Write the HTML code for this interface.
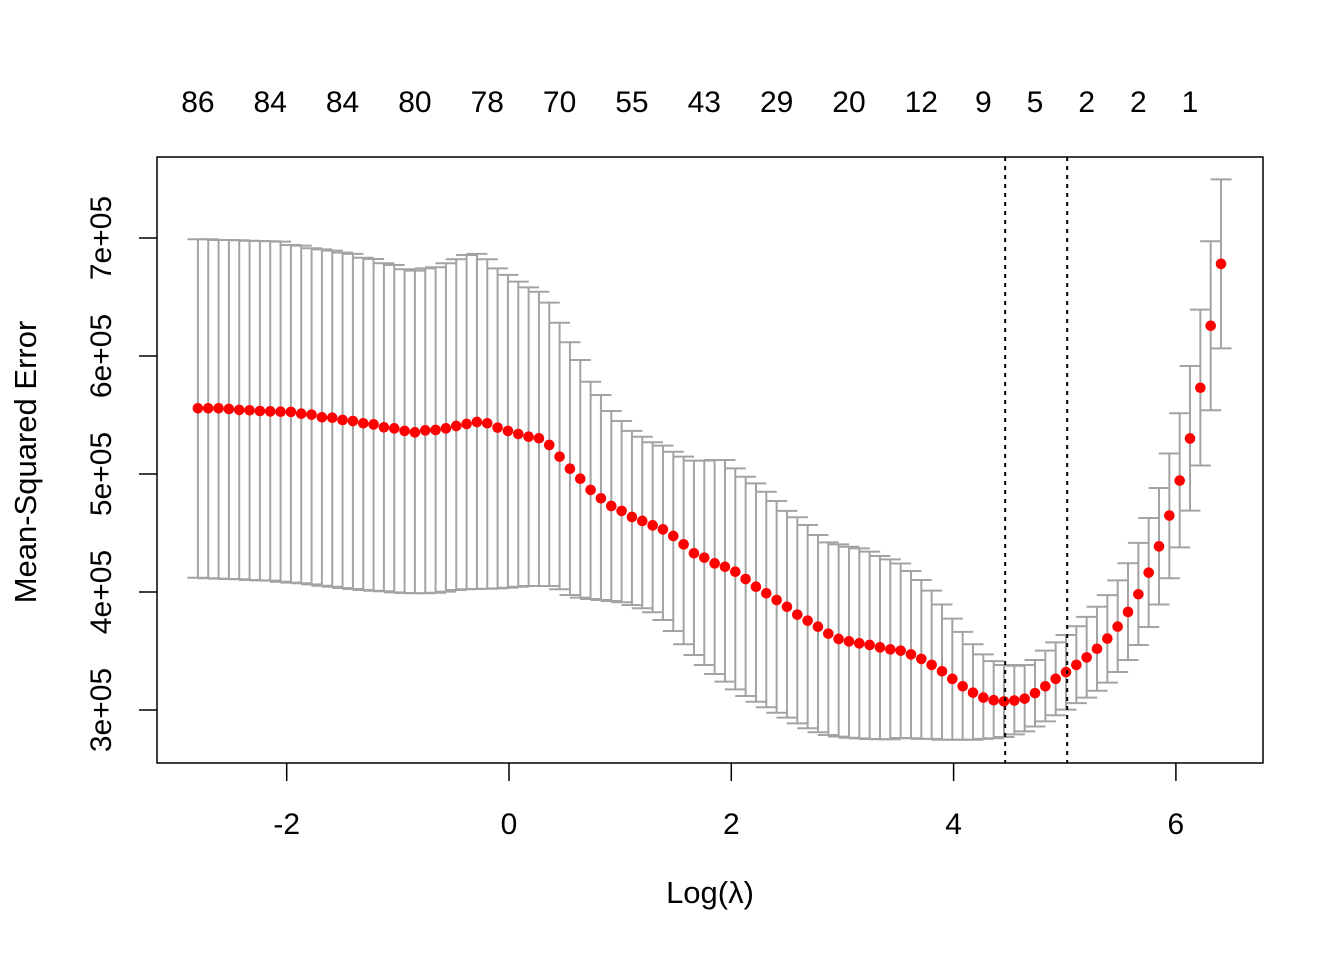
<!DOCTYPE html>
<html><head><meta charset="utf-8"><style>
html,body{margin:0;padding:0;background:#fff;}
svg text{font-family:"Liberation Sans",Arial,sans-serif;fill:#000;}
</style></head>
<body>
<svg id="chart" width="1344" height="960" viewBox="0 0 1344 960" xmlns="http://www.w3.org/2000/svg">
<rect x="0" y="0" width="1344" height="960" fill="#fff"/>
<g id="bars"></g>
<g id="points"></g>
<g id="axes"></g>
<rect x="157" y="157" width="1106" height="606" fill="none" stroke="#000" stroke-width="1.5"/>
<text x="710" y="903" font-size="31" text-anchor="middle">Log(λ)</text>
<text transform="translate(36,462) rotate(-90)" font-size="31" text-anchor="middle">Mean-Squared Error</text>
</svg>
<script>
// data (MSE in thousands)
const logLambdaStart = -2.799;
const logLambdaStep = 0.09298;
const meanMSE = [555.7,555.7,555.7,555.1,554.3,554.0,553.4,553.1,552.8,552.6,551.1,550.3,548.1,547.7,545.8,544.9,543.0,542.1,539.6,538.7,536.5,535.3,537.0,537.3,538.7,540.7,542.4,544.1,543.0,539.3,536.5,533.9,531.6,530.3,524.6,514.7,504.5,496.0,486.5,479.4,472.9,468.7,463.6,460.2,456.5,453.1,447.5,440.4,432.8,429.1,424.3,421.4,417.2,411.0,404.5,398.9,393.2,387.5,380.8,375.7,370.6,364.7,360.2,358.2,356.5,355.1,353.1,351.4,350.3,347.1,343.3,338.2,332.8,326.4,320.1,314.7,310.5,308.3,307.3,308.0,309.6,314.3,320.1,326.4,332.1,338.2,344.6,351.9,360.5,370.7,383.1,398.1,416.4,438.7,464.8,494.4,530.1,573.1,625.6,678.1];
const upperMSE = [698.9,698.9,698.3,698.3,698.1,697.7,697.5,697.2,696.9,694.1,693.5,691.3,690.4,689.3,687.6,686.5,683.3,682.2,678.6,677.1,673.5,672.3,674.3,675.2,678.6,682.0,685.6,686.5,682.0,674.3,668.7,663.0,658.2,654.5,645.2,628.2,611.6,596.6,578.2,567.0,553.4,544.9,536.5,531.6,526.9,524.0,518.9,514.7,511.3,511.3,511.9,511.9,504.8,497.7,492.1,485.0,477.1,468.7,463.3,456.8,448.3,442.1,440.4,438.4,437.0,434.2,430.5,427.7,424.2,417.8,410.2,401.2,389.4,377.4,366.2,355.7,347.1,341.4,338.1,337.5,338.1,342.4,350.3,357.3,363.6,371.0,378.9,387.5,397.4,409.8,424.4,441.6,462.7,488.1,517.4,551.5,591.5,639.3,697.2,749.7];
const lowerMSE = [412.1,411.6,411.3,411.0,410.8,410.2,409.9,409.6,408.7,407.9,407.4,406.5,405.3,404.5,403.4,402.5,401.7,401.1,400.6,399.7,399.2,398.9,398.9,399.4,400.3,401.7,402.3,402.5,402.8,403.1,403.6,404.5,405.1,405.1,405.1,402.3,397.5,395.2,394.1,393.2,392.4,391.3,389.0,386.2,382.8,376.3,366.9,355.7,346.6,338.1,330.5,324.0,317.5,311.9,307.0,302.3,297.7,293.5,288.7,284.5,281.1,278.8,277.4,276.5,276.0,275.4,275.2,275.2,276.3,276.1,275.5,275.5,274.8,274.8,274.8,274.8,275.5,276.1,277.1,279.3,281.9,286.0,290.4,295.6,300.3,305.8,310.5,316.3,323.2,332.2,342.4,355.1,370.3,389.4,411.7,437.8,469.0,507.2,554.0,606.5];
const topLabelIndex = [0,7,14,21,28,35,42,49,56,63,70,76,81,86,91,96];
const topLabels = ["86","84","84","80","78","70","55","43","29","20","12","9","5","2","2","1"];
const xTicks = [-2,0,2,4,6];
const xTickLabels = ["-2","0","2","4","6"];
const yTicks = [300,400,500,600,700];
const yTickLabels = ["3e+05","4e+05","5e+05","6e+05","7e+05"];
const vLines = [4.464,5.022];

const NS = "http://www.w3.org/2000/svg";
function X(v){ return 509 + (v) * 111.15; }
function Y(v){ return 710 - (v - 300) * 1.18; }
function mk(tag, attrs, parent){
  const e = document.createElementNS(NS, tag);
  for (const k in attrs) e.setAttribute(k, attrs[k]);
  parent.appendChild(e); return e;
}
const bars = document.getElementById('bars');
const pts = document.getElementById('points');
const axes = document.getElementById('axes');
const grey = "#a3a3a3";
for (let i = 0; i < meanMSE.length; i++) {
  const x = X(logLambdaStart + i * logLambdaStep);
  const b = mk('line', {x1:x, x2:x, y1:Y(upperMSE[i]), y2:Y(lowerMSE[i]), stroke:grey, 'stroke-width':2}, bars);
  
  
  const c1 = mk('line', {x1:x-10.5, x2:x+10.5, y1:Y(upperMSE[i]), y2:Y(upperMSE[i]), stroke:grey, 'stroke-width':2}, bars);
  
  
  const c2 = mk('line', {x1:x-10.5, x2:x+10.5, y1:Y(lowerMSE[i]), y2:Y(lowerMSE[i]), stroke:grey, 'stroke-width':2}, bars);
  
  
}
for (let i = 0; i < meanMSE.length; i++) {
  const x = X(logLambdaStart + i * logLambdaStep);
  const p = mk('circle', {cx:x, cy:Y(meanMSE[i]), r:5.3, fill:'#ff0000'}, pts);
  
  
}
vLines.forEach(v => {
  const l = mk('line', {x1:X(v), x2:X(v), y1:157, y2:763, stroke:'#000', 'stroke-width':2, 'stroke-dasharray':'4,5'}, axes);
  
  
});
xTicks.forEach((v, k) => {
  const t = mk('line', {x1:X(v), x2:X(v), y1:763, y2:781, stroke:'#000', 'stroke-width':1.5}, axes);
  
  
  const tx = mk('text', {x:X(v), y:834, 'font-size':30, 'text-anchor':'middle'}, axes);
  tx.textContent = xTickLabels[k];
  
  
});
yTicks.forEach((v, k) => {
  const t = mk('line', {x1:139, x2:157, y1:Y(v), y2:Y(v), stroke:'#000', 'stroke-width':1.5}, axes);
  
  
  const tx = mk('text', {transform:`translate(111,${Y(v)}) rotate(-90)`, 'font-size':30, 'text-anchor':'middle'}, axes);
  tx.textContent = yTickLabels[k];
  
  
});
topLabelIndex.forEach((idx, k) => {
  const tx = mk('text', {x:X(logLambdaStart + idx * logLambdaStep), y:112, 'font-size':30, 'text-anchor':'middle'}, axes);
  tx.textContent = topLabels[k];
  
  
});
</script>
</body></html>
